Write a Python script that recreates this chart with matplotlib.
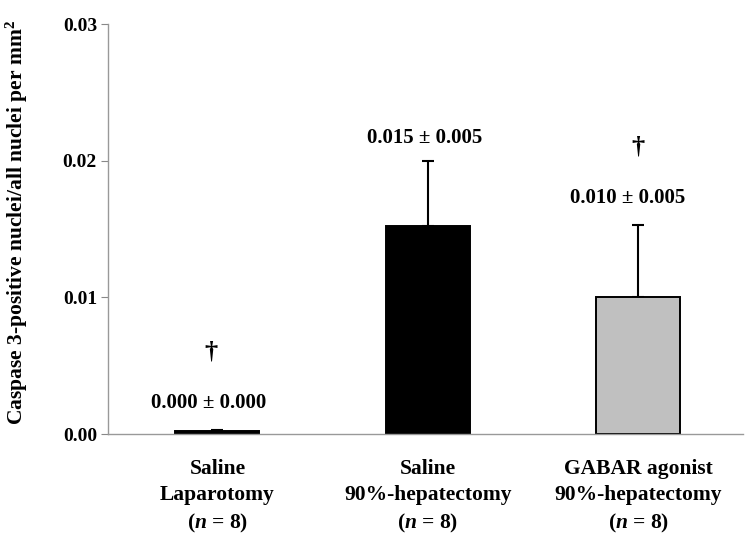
import numpy as np
import matplotlib
matplotlib.use('Agg')
import matplotlib.pyplot as plt

plt.rcParams['font.family'] = ['Liberation Serif', 'DejaVu Serif']
plt.rcParams['font.weight'] = 'bold'
plt.rcParams['mathtext.fontset'] = 'custom'
plt.rcParams['mathtext.it'] = 'Liberation Serif:italic:bold'
plt.rcParams['mathtext.rm'] = 'Liberation Serif:bold'
plt.rcParams['mathtext.bf'] = 'Liberation Serif:bold'

# Данные
groups = ['Saline\nLaparotomy\n($\\mathit{n}$ = 8)',
          'Saline\n90%-hepatectomy\n($\\mathit{n}$ = 8)',
          'GABAR agonist\n90%-hepatectomy\n($\\mathit{n}$ = 8)']
means = [0.0002, 0.0152, 0.0100]
errors = [0.0001, 0.0048, 0.0053]
colors = ['black', 'black', '#c0c0c0']
value_labels = ['0.000 \u00b1 0.000', '0.015 \u00b1 0.005', '0.010 \u00b1 0.005']
label_y = [0.0023, 0.0217, 0.0173]
dagger_y = [0.0060, None, 0.0210]

fig = plt.figure(figsize=(7.5, 5.36), dpi=100)
ax = fig.add_axes([0.144, 0.19, 0.847, 0.765])

x = np.arange(len(groups))
ax.bar(x, means, width=0.4, color=colors, edgecolor='black', linewidth=1.4, zorder=2)
ax.errorbar(x, means, yerr=[np.zeros(len(errors)), errors], fmt='none',
            ecolor='black', elinewidth=1.5, capsize=4, capthick=1.5, zorder=1)

# Подписи значений
offsets = [-0.04, -0.015, -0.05]
for i in range(len(groups)):
    ax.text(x[i] + offsets[i], label_y[i], value_labels[i], ha='center', va='center',
            fontsize=15, fontweight='bold')
    if dagger_y[i] is not None:
        ax.text(x[i] - 0.03 * (i == 0), dagger_y[i], '\u2020', ha='center', va='center',
                fontsize=19, fontweight='bold')

# Оси
ax.set_xlim(-0.52, 2.5)
ax.set_ylim(0, 0.03)
ax.set_yticks([0, 0.01, 0.02, 0.03])
ax.set_yticklabels(['0.00', '0.01', '0.02', '0.03'])
ax.set_xticks(x)
ax.set_xticklabels(groups, fontsize=15.5, fontweight='bold', linespacing=1.4)
ax.tick_params(axis='x', length=0, pad=18)
ax.tick_params(axis='y', length=5, color='#888888', labelsize=14, pad=3)
for lab in ax.get_yticklabels():
    lab.set_fontweight('bold')

for side in ['top', 'right']:
    ax.spines[side].set_visible(False)
for side in ['left', 'bottom']:
    ax.spines[side].set_color('#999999')
    ax.spines[side].set_linewidth(1.0)

ax.set_ylabel('Caspase 3-positive nuclei/all nuclei per mm$^{\\mathbf{2}}$',
              fontsize=15.5, fontweight='bold')
ax.yaxis.set_label_coords(-0.143, 0.515)
ax.yaxis.label.set_va('center')

plt.savefig('out.png', dpi=100)
